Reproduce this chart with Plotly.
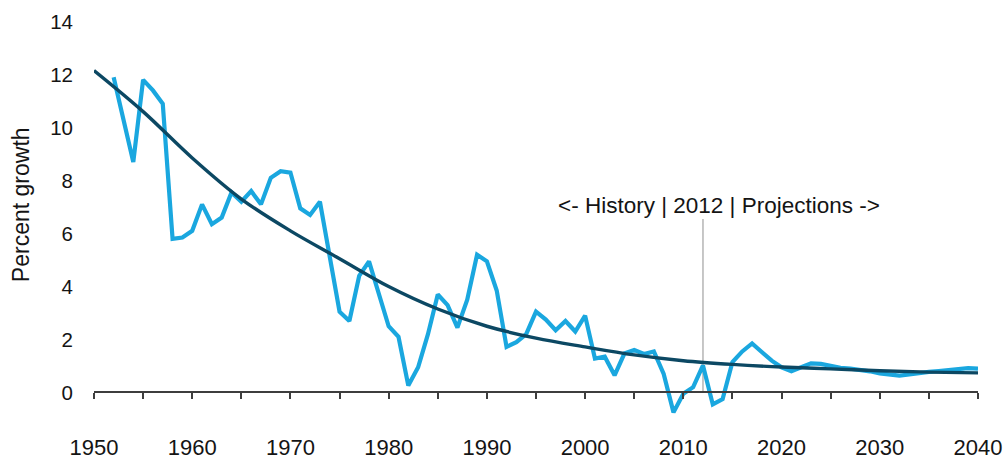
import plotly.graph_objects as go

# Annual percent growth, history (to 2012) and projections
years = list(range(1952, 2041))
growth = [
    11.9, 10.3, 8.7, 11.8, 11.4, 10.9, 5.8, 5.85, 6.1, 7.1,      # 1952-1961
    6.35, 6.6, 7.55, 7.2, 7.6, 7.1, 8.1, 8.35, 8.3, 6.95,        # 1962-1971
    6.7, 7.2, 5.1, 3.05, 2.7, 4.4, 4.95, 3.7, 2.5, 2.1,          # 1972-1981
    0.26, 0.95, 2.2, 3.7, 3.3, 2.45, 3.5, 5.2, 4.95, 3.85,       # 1982-1991
    1.72, 1.9, 2.2, 3.05, 2.75, 2.35, 2.7, 2.3, 2.9, 1.28,       # 1992-2001
    1.35, 0.65, 1.47, 1.6, 1.45, 1.55, 0.7, -0.75, -0.05, 0.2,   # 2002-2011
    1.02, -0.45, -0.25, 1.15, 1.55, 1.85, 1.5, 1.2, 0.95, 0.8,   # 2012-2021
    0.95, 1.1, 1.08, 1.0, 0.93, 0.9, 0.86, 0.8, 0.72, 0.66,      # 2022-2031
    0.64, 0.68, 0.74, 0.78, 0.81, 0.85, 0.88, 0.92, 0.9,         # 2032-2040
]

# Fitted trend line
trend_years = list(range(1950, 2041, 5))
trend_vals = [12.15, 10.6, 8.85, 7.3, 6.1, 5.05, 4.0, 3.15, 2.5, 2.05,
              1.72, 1.42, 1.2, 1.06, 0.96, 0.89, 0.82, 0.77, 0.74]

history_end = 2012
annotation_text = "<- History | 2012 | Projections ->"
x_tick_labels = list(range(1950, 2041, 10))
x_minor_ticks = list(range(1950, 2041, 5))
y_ticks = list(range(0, 15, 2))

FONT = "Liberation Sans, Arial, Helvetica, sans-serif"
TXT = "#141414"
AX = "#3d3d3d"

fig = go.Figure()
fig.add_trace(go.Scatter(
    x=years, y=growth, mode="lines",
    line=dict(color="#1aa7df", width=4.2),
    hoverinfo="x+y", showlegend=False,
))
fig.add_trace(go.Scatter(
    x=trend_years, y=trend_vals, mode="lines",
    line=dict(color="#0c4863", width=3.4, shape="spline", smoothing=1),
    xaxis="x2", showlegend=False,
))

ymin, ymax = -1.302, 14.208
zero_pos = (0 - ymin) / (ymax - ymin)

fig.add_shape(type="line", xref="x", yref="y",
              x0=history_end, x1=history_end, y0=0, y1=6.55,
              line=dict(color="#b5b5b5", width=1.5), layer="below")

fig.add_annotation(x=history_end + 1.6, y=7.05, xref="x", yref="y",
                   text=annotation_text, showarrow=False,
                   font=dict(family=FONT, size=22.5, color=TXT))

fig.add_annotation(x=-0.0825, y=0.54, xref="paper", yref="paper",
                   text="Percent growth", textangle=-90, showarrow=False,
                   xanchor="center", yanchor="middle",
                   font=dict(family=FONT, size=23, color=TXT))

fig.update_layout(
    width=1005, height=459,
    margin=dict(l=94, r=27, t=16, b=32, autoexpand=False),
    paper_bgcolor="white", plot_bgcolor="white",
    font=dict(family=FONT, color=TXT),
    xaxis=dict(range=[1950, 2040], tickvals=x_tick_labels, ticks="",
               showline=False, showgrid=False, zeroline=False,
               automargin=False,
               tickfont=dict(size=22, color=TXT), ticklabelstandoff=5),
    xaxis2=dict(range=[1950, 2040], matches="x", overlaying="x",
                anchor="free", position=zero_pos, automargin=False,
                tickvals=x_minor_ticks, ticks="outside", ticklen=6,
                tickwidth=1.5, tickcolor=AX, showticklabels=False,
                showline=True, linecolor=AX, linewidth=1.5,
                showgrid=False, zeroline=False),
    yaxis=dict(range=[ymin, ymax], tickvals=y_ticks, ticks="",
               showline=False, showgrid=False, zeroline=False,
               automargin=False,
               tickfont=dict(size=20.5, color=TXT), ticklabelstandoff=20),
)

fig.write_html(
    "out.html",
    config={"displayModeBar": False},
    post_script="document.body.style.margin='0';document.body.style.padding='0';",
)
